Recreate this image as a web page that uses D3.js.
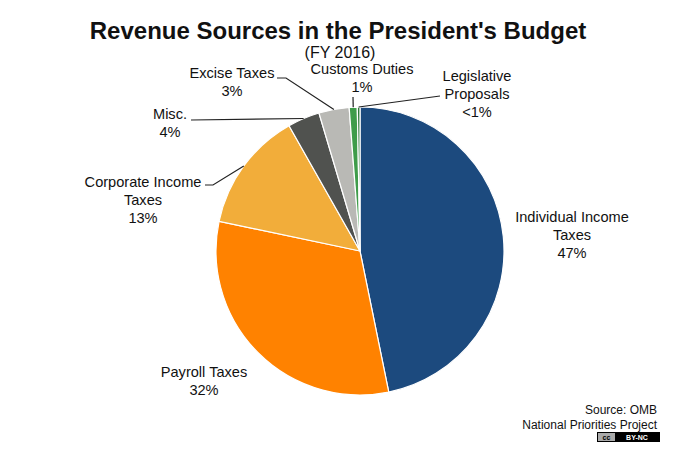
<!DOCTYPE html>
<html>
<head>
<meta charset="utf-8">
<script src="https://cdn.jsdelivr.net/npm/d3@7"></script>
<style>
  body { margin: 0; background: #fff; }
  text { font-family: "Liberation Sans", Arial, sans-serif; fill: #111; }
</style>
</head>
<body>
<script>
// slices, clockwise from 12 o'clock
var names = ['Individual Income Taxes', 'Payroll Taxes', 'Corporate Income Taxes', 'Misc.', 'Excise Taxes', 'Customs Duties', 'Legislative Proposals']
var values = [46.8, 31.5, 13.5, 3.6, 3.4, 0.9, 0.3]
var pctLabels = ['47%', '32%', '13%', '4%', '3%', '1%', '<1%']
var colors = ['#1c4a7e', '#ff8200', '#f2ad3a', '#50524f', '#b9b9b5', '#3f9c4a', '#2f7a3a']

var config = {
  width: 680,
  height: 455,
  cx: 360,
  cy: 251,
  r: 144
}

// label text lines and positions (centre x, first baseline y), plus leader lines
var labelLayout = [
  { lines: ['Individual Income', 'Taxes'], x: 572, y: 222 },
  { lines: ['Payroll Taxes'], x: 204, y: 377 },
  { lines: ['Corporate Income', 'Taxes'], x: 143, y: 187, leader: [[205, 185], [213, 185]] },
  { lines: ['Misc.'], x: 170, y: 119, leader: [[191, 120]] },
  { lines: ['Excise Taxes'], x: 232, y: 78, leader: [[277, 78], [286, 78]] },
  { lines: ['Customs Duties'], x: 362, y: 74, leader: [[353, 97]] },
  { lines: ['Legislative', 'Proposals'], x: 477, y: 81, leader: [[440, 96]] }
]

var svg = d3.select('body').append('svg')
  .attr('width', config.width)
  .attr('height', config.height)

svg.append('text')
  .attr('x', 338).attr('y', 39)
  .attr('text-anchor', 'middle')
  .style('font-size', '24px').style('font-weight', 'bold')
  .text("Revenue Sources in the President's Budget")

svg.append('text')
  .attr('x', 340).attr('y', 58)
  .attr('text-anchor', 'middle')
  .style('font-size', '16px')
  .text('(FY 2016)')

var pie = d3.pie().sort(null).value(d => d)
var arcs = pie(values)
var arc = d3.arc().innerRadius(0).outerRadius(config.r)

var g = svg.append('g').attr('transform', 'translate(' + config.cx + ',' + config.cy + ')')

g.selectAll('path')
  .data(arcs)
  .enter().append('path')
  .attr('d', arc)
  .attr('fill', (d, i) => colors[i])
  .attr('stroke', '#fff')
  .attr('stroke-width', 1.2)

// leader lines end at the slice edge, mid angle
arcs.forEach((d, i) => {
  var lay = labelLayout[i]
  if (!lay.leader) return
  var mid = (d.startAngle + d.endAngle) / 2
  var ex = config.cx + Math.sin(mid) * config.r
  var ey = config.cy - Math.cos(mid) * config.r
  var pts = lay.leader.concat([[ex, ey]])
  svg.append('path')
    .attr('d', d3.line()(pts))
    .attr('fill', 'none')
    .attr('stroke', '#222')
    .attr('stroke-width', 1.2)
})

labelLayout.forEach((lay, i) => {
  var t = svg.append('text')
    .attr('text-anchor', 'middle')
    .style('font-size', '14.6px')
  lay.lines.concat([pctLabels[i]]).forEach((s, j) => {
    t.append('tspan').attr('x', lay.x).attr('y', lay.y + j * 17.8).text(s)
  })
})

svg.append('text')
  .attr('x', 657).attr('y', 414)
  .attr('text-anchor', 'end')
  .style('font-size', '12px')
  .text('Source: OMB')

svg.append('text')
  .attr('x', 657).attr('y', 429)
  .attr('text-anchor', 'end')
  .style('font-size', '12px')
  .text('National Priorities Project')

// cc badge
var badge = svg.append('g').attr('transform', 'translate(597,432)')
badge.append('rect').attr('width', 63).attr('height', 10).attr('fill', '#000')
badge.append('rect').attr('x', 1).attr('y', 1).attr('width', 17).attr('height', 8).attr('fill', '#aaa')
badge.append('text').attr('x', 9.5).attr('y', 8).attr('text-anchor', 'middle')
  .style('font-size', '7px').style('font-weight', 'bold').style('fill', '#000').text('cc')
badge.append('text').attr('x', 40).attr('y', 8).attr('text-anchor', 'middle')
  .style('font-size', '7px').style('font-weight', 'bold').style('fill', '#fff').text('BY-NC')
</script>
</body>
</html>
